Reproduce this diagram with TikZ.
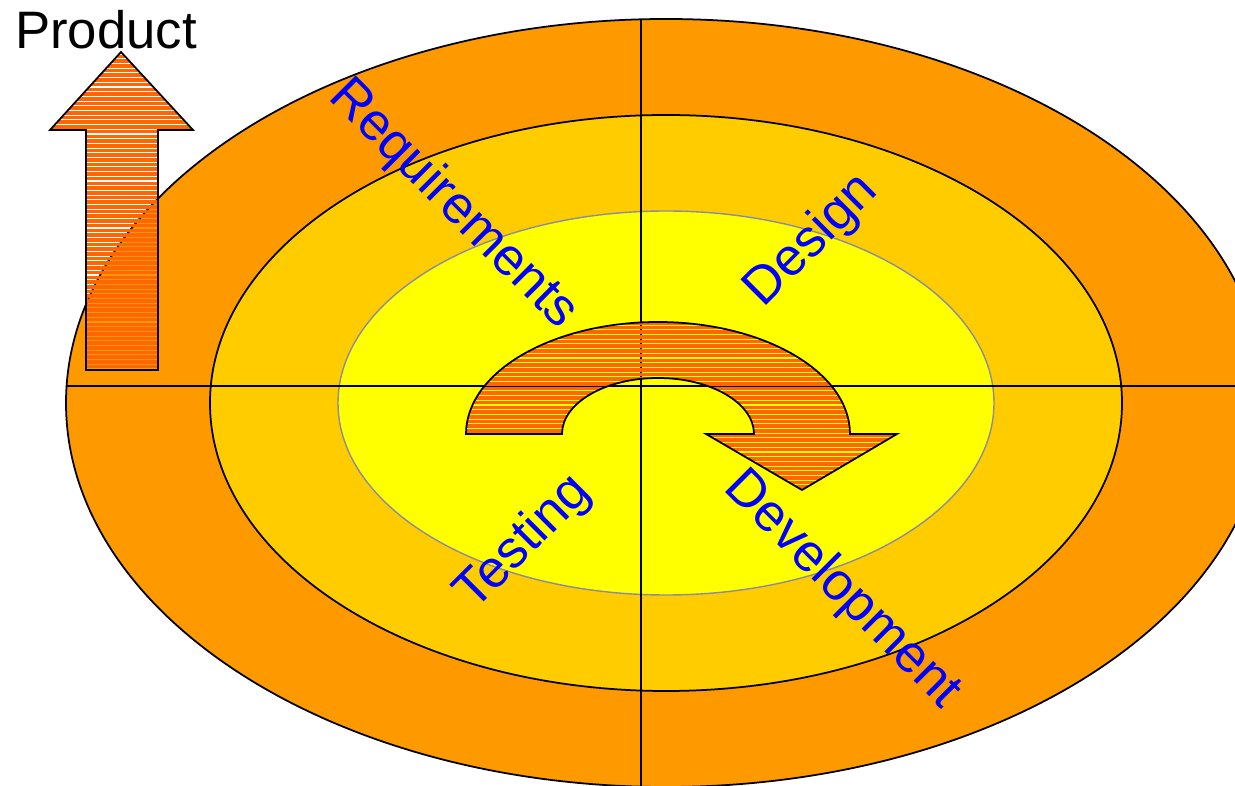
\documentclass[tikz,border=0pt]{standalone}
\usepackage{fontspec}
\setmainfont{Liberation Sans}
\definecolor{ringouter}{HTML}{FF9900}
\definecolor{ringmiddle}{HTML}{FFCC00}
\definecolor{ringinner}{HTML}{FFFF00}
\definecolor{arrowfill}{HTML}{FF6600}
\definecolor{innerline}{HTML}{8C8CA0}
\newcommand{\productshape}{(86,370) -- (86,130) -- (50,130) -- (121,52) -- (193,130) -- (158,130) -- (158,370) -- cycle}
\newcommand{\cycleshape}{(466,434) arc[start angle=180, end angle=360, x radius=192, y radius=112]
	-- (897,434) -- (802,490) -- (706,434) -- (754,434)
	arc[start angle=360, end angle=180, x radius=96, y radius=56] -- cycle}
\tikzset{phase/.style={text=blue, font=\fontsize{30}{36}\selectfont},
	stripe/.style={fill=arrowfill, draw=none}}

\begin{document}
\begin{tikzpicture}[x=0.02cm, y=-0.02cm, line width=1pt]
	\clip (0,0) rectangle (1235,786);
	
	% rings
	\filldraw[fill=ringouter] (666,403) ellipse [x radius=600, y radius=384];
	\filldraw[fill=ringmiddle] (666,403) ellipse [x radius=456, y radius=288];
	\filldraw[fill=ringinner, draw=innerline, line width=0.8pt] (666,403) ellipse [x radius=328, y radius=192];
	
	% quadrant lines
	\begin{scope}
		\clip (666,403) ellipse [x radius=600, y radius=384];
		\draw (0,386) -- (1235,386);
		\draw (641,0) -- (641,786);
	\end{scope}
	
	% product arrow
	\begin{scope}
		\clip \productshape;
		\foreach \y in {50,54.7,...,372}
			\fill[stripe] (40,\y) rectangle (200,\y+3.6);
	\end{scope}
	\draw \productshape;
	\node[font=\fontsize{30}{36}\selectfont] (prod) at (106,30) {Product};
	
	% cycle arrow
	\begin{scope}
		\clip \cycleshape;
		\foreach \y in {321,325.7,...,492}
			\fill[stripe] (460,\y) rectangle (900,\y+3.6);
	\end{scope}
	\draw \cycleshape;
	
	% phases
	\node[phase, rotate=-45] (req) at (453,205) {Requirements};
	\node[phase, rotate=45] (des) at (812,241) {Design};
	\node[phase, rotate=45] (tes) at (524,543) {Testing};
	\node[phase, rotate=-45] (dev) at (842,590) {Development};
\end{tikzpicture}
\end{document}
